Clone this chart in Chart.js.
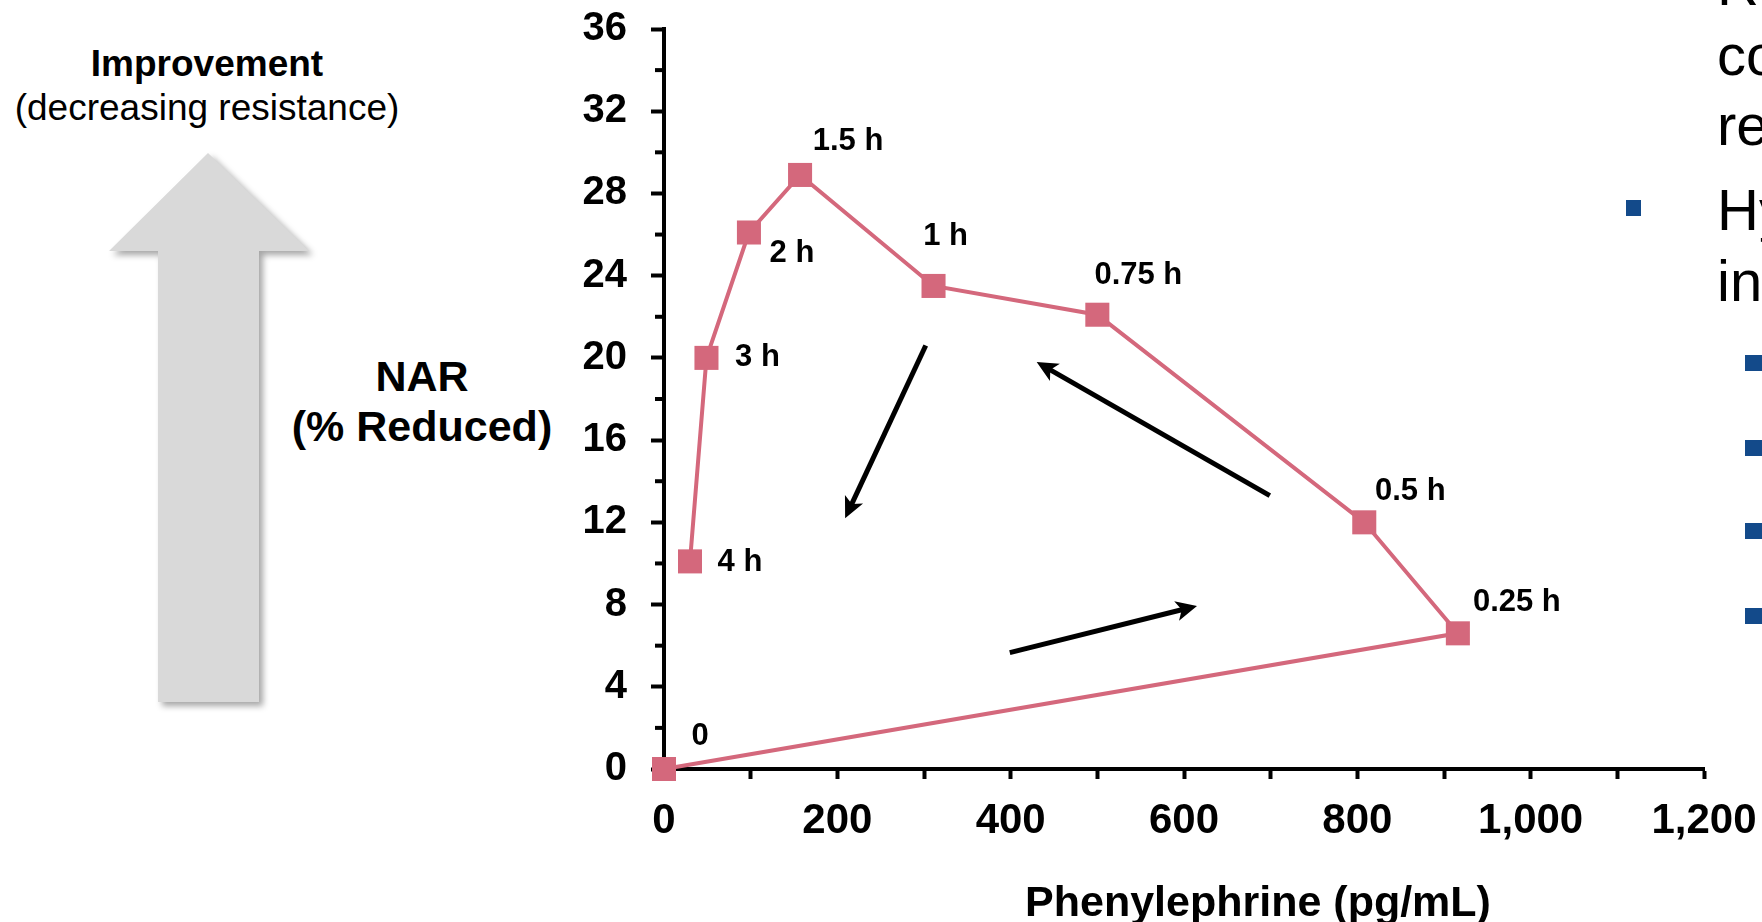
<!DOCTYPE html>
<html>
<head>
<meta charset="utf-8">
<script src="https://cdn.jsdelivr.net/npm/chart.js@4.4.1/dist/chart.umd.min.js"></script>
<style>
  html, body { margin: 0; padding: 0; background: #fff; overflow: hidden; }
  body { width: 1762px; height: 922px; position: relative; font-family: "Liberation Sans", Arial, sans-serif; color: #000; }
  #chartBox { position: absolute; left: 0; top: 0; width: 1762px; height: 922px; }
  .txt { position: absolute; white-space: nowrap; line-height: 1; }
  .centered { transform: translateX(-50%); text-align: center; }
  .bold { font-weight: bold; }
  .slide { position: absolute; left: 1717px; font-size: 58px; line-height: 1; white-space: nowrap; }
  .bullet { position: absolute; background: #134a8a; }
  #bigArrow { position: absolute; left: 0; top: 0; filter: drop-shadow(4px 4px 3px rgba(0,0,0,0.35)); }
</style>
</head>
<body>

<svg id="bigArrow" width="340" height="730">
  <polygon points="208,153 309,251 259,251 259,702 158,702 158,251 109,251" fill="#d9d9d9"/>
</svg>
<div class="txt bold centered" style="left:207px; top:45px; font-size:37px;">Improvement</div>
<div class="txt centered" style="left:207px; top:89px; font-size:37px;">(decreasing resistance)</div>

<div class="txt bold centered" style="left:422px; top:355px; font-size:43px;">NAR</div>
<div class="txt bold centered" style="left:422px; top:405px; font-size:43px;">(% Reduced)</div>

<div id="chartBox"><canvas id="narChart"></canvas></div>

<div class="txt bold centered" style="left:1258px; top:880px; font-size:43px;">Phenylephrine (pg/mL)</div>

<div class="slide" style="top:-44px;">R</div>
<div class="slide" style="top:26px;">co</div>
<div class="slide" style="top:96px;">re</div>
<div class="bullet" style="left:1626px; top:200px; width:15px; height:16px;"></div>
<div class="slide" style="top:181px;">Hy</div>
<div class="slide" style="top:252px;">in</div>
<div class="bullet" style="left:1745px; top:355px; width:17px; height:16px;"></div>
<div class="bullet" style="left:1745px; top:440px; width:17px; height:16px;"></div>
<div class="bullet" style="left:1745px; top:523px; width:17px; height:16px;"></div>
<div class="bullet" style="left:1745px; top:608px; width:17px; height:16px;"></div>

<script>
// time after dose, plasma phenylephrine and nasal airway resistance reduction
var timeLabels = ["0", "0.25 h", "0.5 h", "0.75 h", "1 h", "1.5 h", "2 h", "3 h", "4 h"];
var phenylephrine = [0, 916, 808, 500, 311, 157, 98, 49, 30];
var narReduced = [0, 6.6, 12.0, 22.1, 23.5, 28.9, 26.1, 20.0, 10.1];

// axis ranges
var xMax = 1200, xStep = 100, xLabelEvery = 200;
var yMax = 36, yStep = 2, yLabelEvery = 4;

// where each time label sits relative to its marker (px)
var labelOffsets = [[36, -33], [59, -31], [46, -31], [41, -39], [12, -49], [48, -33], [43, 21], [51, 0], [50, 1]];

// direction-of-time arrows, in data units
var trendArrows = [
  { from: [302, 20.6], to: [209, 12.2] },
  { from: [699, 13.3], to: [430, 19.8] },
  { from: [399, 5.66], to: [615, 7.93] }
];

var pink = "rgb(212,104,124)";
var fontFamily = '"Liberation Sans", Arial, sans-serif';

var pointLabelsPlugin = {
  id: "pointLabels",
  afterDatasetsDraw: function(chart) {
    var ctx = chart.ctx;
    var meta = chart.getDatasetMeta(0);
    ctx.save();
    ctx.font = "bold 31px " + fontFamily;
    ctx.fillStyle = "#000";
    ctx.textAlign = "center";
    ctx.textBaseline = "middle";
    meta.data.forEach(function(pt, i) {
      var off = labelOffsets[i];
      ctx.fillText(timeLabels[i], pt.x + off[0], pt.y + off[1]);
    });
    ctx.restore();
  }
};

var arrowsPlugin = {
  id: "trendArrows",
  afterDatasetsDraw: function(chart) {
    var ctx = chart.ctx;
    var xs = chart.scales.x, ys = chart.scales.y;
    ctx.save();
    ctx.strokeStyle = "#000";
    ctx.fillStyle = "#000";
    ctx.lineWidth = 5;
    trendArrows.forEach(function(a) {
      var x1 = xs.getPixelForValue(a.from[0]), y1 = ys.getPixelForValue(a.from[1]);
      var x2 = xs.getPixelForValue(a.to[0]), y2 = ys.getPixelForValue(a.to[1]);
      var ang = Math.atan2(y2 - y1, x2 - x1);
      var c = Math.cos(ang), s = Math.sin(ang);
      var head = 21, half = 10;
      ctx.beginPath();
      ctx.moveTo(x1, y1);
      ctx.lineTo(x2 - head * 0.7 * c, y2 - head * 0.7 * s);
      ctx.stroke();
      var bx = x2 - head * c, by = y2 - head * s;
      ctx.beginPath();
      ctx.moveTo(x2, y2);
      ctx.lineTo(bx + half * s, by - half * c);
      ctx.lineTo(x2 - head * 0.75 * c, y2 - head * 0.75 * s);
      ctx.lineTo(bx - half * s, by + half * c);
      ctx.closePath();
      ctx.fill();
    });
    ctx.restore();
  }
};

// short ticks at the unlabelled y values
var minorTicksPlugin = {
  id: "minorTicks",
  beforeDatasetsDraw: function(chart) {
    var ctx = chart.ctx;
    var ys = chart.scales.y;
    var left = chart.chartArea.left;
    ctx.save();
    ctx.strokeStyle = "#000";
    ctx.lineWidth = 4;
    for (var v = yStep; v < yMax; v += yStep) {
      if (v % yLabelEvery === 0) continue;
      var py = ys.getPixelForValue(v);
      ctx.beginPath();
      ctx.moveTo(left - 2, py);
      ctx.lineTo(left - 9, py);
      ctx.stroke();
    }
    ctx.restore();
  }
};

var points = phenylephrine.map(function(v, i) {
  return { x: v, y: narReduced[i] };
});

var config = {
  type: "scatter",
  data: {
    datasets: [
      {
        data: points,
        showLine: true,
        borderColor: pink,
        borderWidth: 4,
        backgroundColor: pink,
        pointStyle: "rect",
        pointRadius: 17,
        pointHoverRadius: 17,
        pointBorderWidth: 0,
        clip: false
      }
    ]
  },
  options: {
    responsive: true,
    maintainAspectRatio: false,
    animation: false,
    events: [],
    layout: { padding: { top: 29, right: 58, bottom: 0, left: 0 } },
    plugins: {
      legend: { display: false },
      tooltip: { enabled: false }
    },
    scales: {
      x: {
        type: "linear",
        min: 0,
        max: xMax,
        border: { display: true, color: "#000", width: 4 },
        grid: { drawOnChartArea: false, drawTicks: true, tickLength: 10, tickWidth: 4, tickColor: "#000" },
        ticks: {
          stepSize: xStep,
          autoSkip: false,
          maxRotation: 0,
          padding: 17,
          color: "#000",
          font: { family: fontFamily, size: 42, weight: "bold" },
          callback: function(v) {
            return v % xLabelEvery === 0 ? v.toLocaleString("en-US") : "";
          }
        },
        afterFit: function(scale) {
          scale.height = 153;
          scale.paddingLeft = 0;
          scale.paddingRight = 0;
        }
      },
      y: {
        type: "linear",
        min: 0,
        max: yMax,
        border: { display: true, color: "#000", width: 4 },
        grid: {
          drawOnChartArea: false,
          drawTicks: true,
          tickLength: 13,
          tickWidth: 4,
          tickColor: function(c) {
            return c.tick && c.tick.value % yLabelEvery === 0 ? "#000" : "rgba(0,0,0,0)";
          }
        },
        ticks: {
          stepSize: yStep,
          autoSkip: false,
          padding: 24,
          color: "#000",
          font: { family: fontFamily, size: 40, weight: "bold" },
          callback: function(v) {
            return v % yLabelEvery === 0 ? v : "";
          }
        },
        afterFit: function(scale) {
          scale.width = 664;
          scale.paddingTop = 0;
          scale.paddingBottom = 0;
        }
      }
    }
  },
  plugins: [minorTicksPlugin, pointLabelsPlugin, arrowsPlugin]
};

window.onload = function() {
  var ctx = document.getElementById("narChart").getContext("2d");
  window.narChart = new Chart(ctx, config);
};
</script>
</body>
</html>
